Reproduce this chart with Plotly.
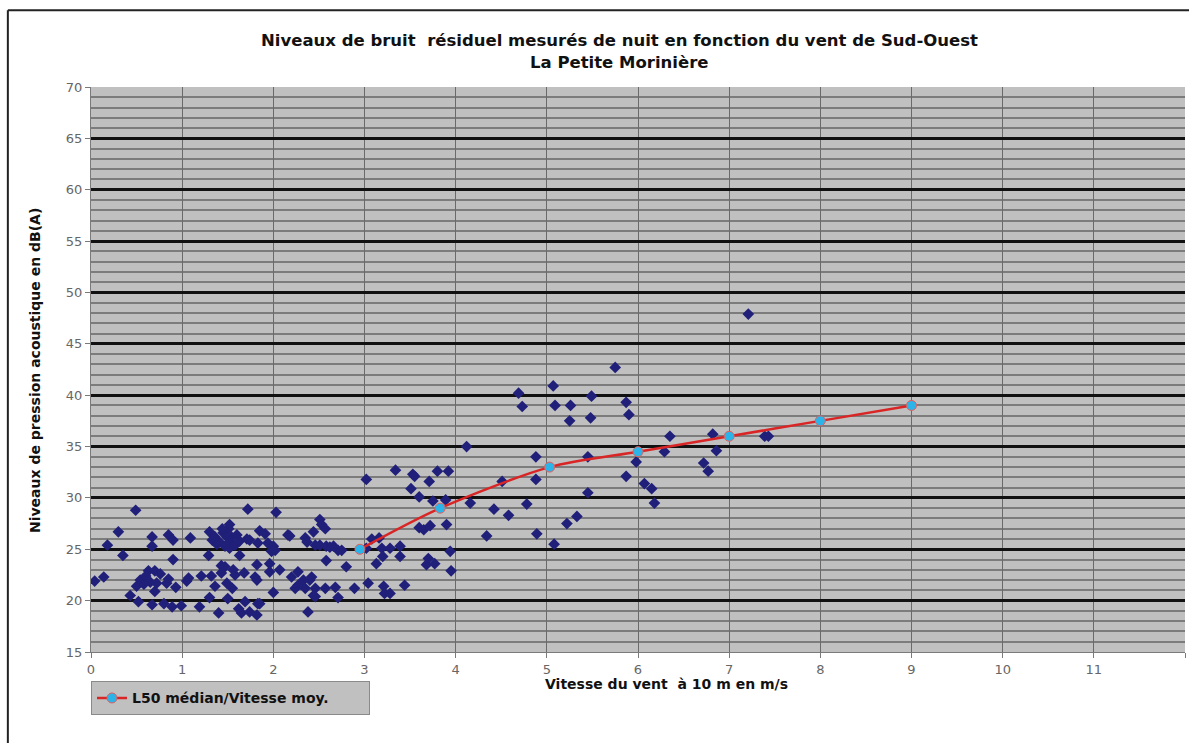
import plotly.graph_objects as go

# Mesures individuelles : vitesse du vent (m/s) et niveau résiduel (dB(A))
vent_mesure = [
    0.04, 0.14, 0.18, 0.30, 0.35, 0.49, 0.43, 0.52, 0.50, 0.54, 0.63, 0.65, 0.67, 0.67, 0.67,
    0.70, 0.70, 0.72, 0.80, 0.83, 0.85, 0.85, 0.90, 0.90, 0.89, 0.93, 0.99, 0.58, 0.60, 0.76,
    1.05, 1.07, 1.09, 1.19, 1.21, 1.29, 1.30, 1.30, 1.32, 1.36, 1.36, 1.40, 1.41, 1.43, 1.43,
    1.33, 1.38, 1.45, 1.47, 1.47, 1.49, 1.49, 1.50, 1.51, 1.52, 1.54, 1.54, 1.58, 1.58, 1.60,
    1.62, 1.63, 1.63, 1.65, 1.69, 1.71, 1.72, 1.74, 1.74, 1.80, 1.82, 1.82, 1.83, 1.83, 1.82,
    1.85, 1.85, 1.91, 1.94, 1.96, 1.96, 1.98, 2.00, 2.00, 2.02, 1.56, 1.55, 1.68, 1.52, 1.44,
    2.03, 2.07, 2.16, 2.18, 2.20, 2.24, 2.27, 2.27, 2.33, 2.35, 2.37, 2.35, 2.38, 2.42, 2.44,
    2.44, 2.46, 2.46, 2.46, 2.51, 2.53, 2.57, 2.51, 2.58, 2.58, 2.57, 2.62, 2.66, 2.68, 2.71,
    2.71, 2.75, 2.80, 2.89, 2.30, 2.40,
    3.02, 3.02, 3.04, 3.08, 3.13, 3.16, 3.19, 3.20, 3.21, 3.22, 3.28, 3.28, 3.34, 3.39, 3.39,
    3.44, 3.51, 3.53, 3.55, 3.60, 3.60, 3.65, 3.68, 3.70, 3.71, 3.72, 3.75, 3.77, 3.80, 3.89,
    3.90, 3.92, 3.94, 3.95,
    4.12, 4.16, 4.34, 4.42, 4.51, 4.58, 4.69, 4.73, 4.78, 4.88, 4.88, 4.89,
    5.07, 5.08, 5.09, 5.22, 5.25, 5.26, 5.33, 5.45, 5.45, 5.48, 5.49, 5.75, 5.87, 5.90, 5.87, 5.98,
    6.07, 6.15, 6.18, 6.29, 6.35, 6.72, 6.77, 6.82, 6.86, 7.21, 7.39, 7.43,
]
niveau_mesure = [
    21.9, 22.3, 25.4, 26.7, 24.4, 28.8, 20.5, 19.9, 21.4, 22.0, 22.9, 21.8, 19.6, 26.2, 25.3,
    22.9, 20.9, 21.7, 19.7, 21.7, 22.1, 26.4, 25.9, 24.0, 19.4, 21.3, 19.5, 21.6, 22.4, 22.6,
    21.9, 22.2, 26.1, 19.4, 22.4, 24.4, 26.7, 20.3, 22.4, 21.4, 26.2, 18.8, 25.7, 23.4, 22.7,
    25.9, 25.5, 26.6, 25.3, 23.3, 26.2, 21.7, 20.2, 27.0, 25.1, 25.7, 26.2, 25.4, 22.5, 26.4,
    19.2, 25.8, 24.4, 18.8, 19.9, 26.0, 28.9, 25.9, 18.9, 22.3, 22.0, 23.5, 25.6, 19.7, 18.6,
    26.8, 19.7, 26.5, 25.6, 23.6, 22.8, 24.8, 25.3, 20.8, 24.9, 23.0, 21.2, 22.7, 27.4, 27.0,
    28.6, 23.0, 26.4, 26.3, 22.3, 21.2, 22.8, 21.5, 22.0, 26.1, 25.7, 21.2, 18.9, 22.3, 26.7,
    20.5, 25.4, 21.2, 20.4, 27.9, 27.4, 27.0, 25.4, 25.3, 23.9, 21.2, 25.2, 25.3, 21.3, 24.9,
    20.3, 24.9, 23.3, 21.2, 21.6, 22.0,
    31.8, 25.1, 21.7, 26.0, 23.6, 26.1, 25.1, 24.3, 21.4, 20.7, 20.7, 25.1, 32.7, 25.3, 24.3,
    21.5, 30.9, 32.3, 32.1, 30.1, 27.1, 26.9, 23.5, 24.1, 31.6, 27.3, 29.7, 23.6, 32.6, 29.8,
    27.4, 32.6, 24.8, 22.9,
    35.0, 29.5, 26.3, 28.9, 31.6, 28.3, 40.2, 38.9, 29.4, 34.0, 31.8, 26.5,
    40.9, 25.5, 39.0, 27.5, 37.5, 39.0, 28.2, 34.0, 30.5, 37.8, 39.9, 42.7, 39.3, 38.1, 32.1, 33.5,
    31.4, 30.9, 29.5, 34.5, 36.0, 33.4, 32.6, 36.2, 34.6, 47.9, 36.0, 36.0,
]

# L50 médian par classe de vitesse moyenne
vent_classe = [2.95, 3.83, 5.03, 6.0, 7.0, 8.0, 9.0]
l50_median = [25.0, 29.0, 33.0, 34.5, 36.0, 37.5, 39.0]

titre = "Niveaux de bruit  résiduel mesurés de nuit en fonction du vent de Sud-Ouest"
sous_titre = "La Petite Morinière"
titre_x = "Vitesse du vent  à 10 m en m/s"
titre_y = "Niveaux de pression acoustique en dB(A)"
nom_serie = "L50 médian/Vitesse moy."

FONT = "DejaVu Sans"

fig = go.Figure()

fig.add_trace(go.Scatter(
    x=vent_mesure, y=niveau_mesure, mode="markers", showlegend=False,
    marker=dict(symbol="diamond", size=9, color="#20207A", line=dict(width=0)),
    hoverinfo="x+y",
))

fig.add_trace(go.Scatter(
    x=vent_classe, y=l50_median, mode="lines+markers", name=nom_serie,
    line=dict(color="#D92525", width=2.5, shape="spline", smoothing=0.8),
    marker=dict(symbol="circle", size=10, color="#2CB4E8",
                line=dict(color="#E06060", width=1)),
))

fig.update_layout(
    width=1189, height=743,
    margin=dict(l=91, r=4, t=87, b=91),
    paper_bgcolor="white",
    plot_bgcolor="#C0C0C0",
    font=dict(family=FONT, color="#555555", size=12),
    showlegend=True,
    legend=dict(
        orientation="h", x=0, xanchor="left", y=-0.052, yanchor="top",
        bgcolor="#C0C0C0", bordercolor="#8A8A8A", borderwidth=1,
        entrywidth=232, entrywidthmode="pixels",
        font=dict(family=FONT, size=14, color="#111111", weight="bold"),
    ),
)

fig.update_xaxes(
    range=[0, 12], dtick=1, tick0=0,
    showgrid=True, gridcolor="#6A6A6A", gridwidth=1.2,
    zeroline=False, showline=True, linecolor="#7A7A7A", linewidth=1,
    ticks="outside", ticklen=5, tickcolor="#7A7A7A",
    tickfont=dict(family=FONT, size=13, color="#666666"),
)
fig.update_yaxes(
    range=[15, 70], dtick=5, tick0=15,
    showgrid=True, gridcolor="#111111", gridwidth=2.5,
    minor=dict(dtick=1, showgrid=True, gridcolor="#7C7C7C", gridwidth=1.5),
    zeroline=False, showline=True, linecolor="#7A7A7A", linewidth=1,
    ticks="outside", ticklen=5, tickcolor="#7A7A7A",
    tickfont=dict(family=FONT, size=13, color="#666666"),
)

# Titres
fig.add_annotation(text=titre, xref="paper", yref="paper", x=0.4835, y=1.083,
                   showarrow=False, xanchor="center", yanchor="middle",
                   font=dict(family=FONT, size=16.5, color="#111111", weight="bold"))
fig.add_annotation(text=sous_titre, xref="paper", yref="paper", x=0.4835, y=1.044,
                   showarrow=False, xanchor="center", yanchor="middle",
                   font=dict(family=FONT, size=16.5, color="#111111", weight="bold"))
fig.add_annotation(text=titre_x, xref="paper", yref="paper", x=0.5256, y=-0.0566,
                   showarrow=False, xanchor="center", yanchor="middle",
                   font=dict(family=FONT, size=14, color="#111111", weight="bold"))
fig.add_annotation(text=titre_y, xref="paper", yref="paper", x=-0.0512, y=0.499,
                   showarrow=False, xanchor="center", yanchor="middle", textangle=-90,
                   font=dict(family=FONT, size=14, color="#111111", weight="bold"))

# Cadre de la zone graphique
fig.add_shape(type="line", xref="paper", yref="paper", x0=-0.076, x1=1.01, y0=1.136, y1=1.136,
              line=dict(color="#222222", width=2))
fig.add_shape(type="line", xref="paper", yref="paper", x0=-0.076, x1=-0.076, y0=1.136, y1=-0.2,
              line=dict(color="#222222", width=2))

fig.write_html("out.html")
